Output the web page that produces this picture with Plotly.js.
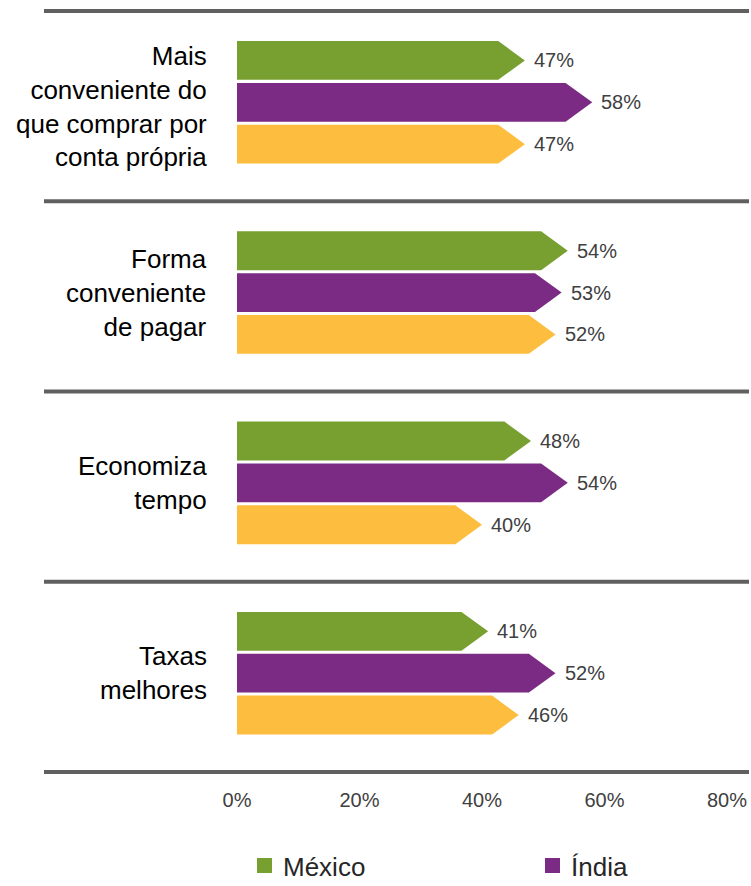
<!DOCTYPE html>
<html>
<head>
<meta charset="utf-8">
<script src="https://cdn.plot.ly/plotly-3.0.1.min.js"></script>
<style>
  html, body { margin: 0; padding: 0; background: #ffffff; }
  #chart { width: 751px; height: 886px; }
</style>
</head>
<body>
<div id="chart"></div>
<script>
// ---- Data ----
var categories = [
  "Mais<br>conveniente do<br>que comprar por<br>conta própria",
  "Forma<br>conveniente<br>de pagar",
  "Economiza<br>tempo",
  "Taxas<br>melhores"
];
var seriesNames = ["México", "Índia", "Brasil"];
var mexico = [47, 54, 48, 41];
var india  = [58, 53, 54, 52];
var brasil = [47, 52, 40, 46];
var tickVals = [0, 20, 40, 60, 80];
var tickText = ["0%", "20%", "40%", "60%", "80%"];

// ---- Styling ----
var colors = ["#78A030", "#7B2B83", "#FDBE40"];
var offsets = [-0.22, 0, 0.22];
var halfH = 0.102;
var tipDepth = 4.35;   // arrow point depth (in axis units)
var FONT = "Liberation Sans, Arial, sans-serif";

// pixel helpers for the plot area (l=237, w=490, t=0, h=786)
var PL = 237, PW = 490, PH = 786;
function px2paperX(p) { return (p - PL) / PW; }
function px2paperY(p) { return (PH - p) / PH; }

var allSeries = [mexico, india, brasil];
var traces = [];
var annotations = [];
var shapes = [];

allSeries.forEach(function (vals, s) {
  var xs = [], ys = [];
  vals.forEach(function (v, i) {
    var yc = i + offsets[s];
    xs.push(0, v - tipDepth, v, v - tipDepth, 0, 0, null);
    ys.push(yc - halfH, yc - halfH, yc, yc + halfH, yc + halfH, yc - halfH, null);
    annotations.push({
      x: v, y: yc, xref: "x", yref: "y",
      text: v + "%", showarrow: false,
      xanchor: "left", yanchor: "middle", xshift: 7,
      font: { family: FONT, size: 20, color: "#404040" }
    });
  });
  traces.push({
    type: "scatter", mode: "lines", x: xs, y: ys,
    fill: "toself", fillcolor: colors[s],
    line: { width: 0, color: colors[s] },
    name: seriesNames[s], showlegend: false, hoverinfo: "skip"
  });
});

categories.forEach(function (c, i) {
  annotations.push({
    x: 0, y: i, xref: "paper", yref: "y",
    text: c, showarrow: false, align: "right",
    xanchor: "right", yanchor: "middle", xshift: -28, yshift: (i === 0 ? -4 : 0),
    font: { family: FONT, size: 26, color: "#000000" }
  });
});

// separators
for (var k = 0; k <= categories.length; k++) {
  shapes.push({
    type: "line", xref: "paper", yref: "y",
    x0: px2paperX(44), x1: px2paperX(749), y0: k - 0.48, y1: k - 0.48,
    line: { color: "#606060", width: 4 }
  });
}

// legend (México, Índia) drawn below the axis
var legendX = [257, 545];
[0, 1].forEach(function (s) {
  shapes.push({
    type: "rect", xref: "paper", yref: "paper",
    x0: px2paperX(legendX[s]), x1: px2paperX(legendX[s] + 15),
    y0: px2paperY(873), y1: px2paperY(858),
    fillcolor: colors[s], line: { width: 0 }
  });
  annotations.push({
    x: px2paperX(legendX[s] + 24), y: px2paperY(867), xref: "paper", yref: "paper",
    text: seriesNames[s], showarrow: false, xanchor: "left", yanchor: "middle",
    font: { family: FONT, size: 26, color: "#262626" }
  });
});

var layout = {
  width: 751, height: 886,
  margin: { l: PL, r: 751 - PL - PW, t: 0, b: 886 - PH },
  paper_bgcolor: "#ffffff", plot_bgcolor: "#ffffff",
  showlegend: false,
  xaxis: {
    range: [0, 80], tickvals: tickVals, ticktext: tickText,
    showgrid: false, zeroline: false, showline: false, ticks: "",
    tickfont: { family: FONT, size: 20, color: "#404040" },
    fixedrange: true, automargin: false
  },
  yaxis: {
    range: [3.593, -0.5376], showticklabels: false,
    showgrid: false, zeroline: false, showline: false, ticks: "",
    fixedrange: true, automargin: false
  },
  shapes: shapes,
  annotations: annotations
};

Plotly.newPlot("chart", traces, layout, { displayModeBar: false, staticPlot: true });
</script>
</body>
</html>
